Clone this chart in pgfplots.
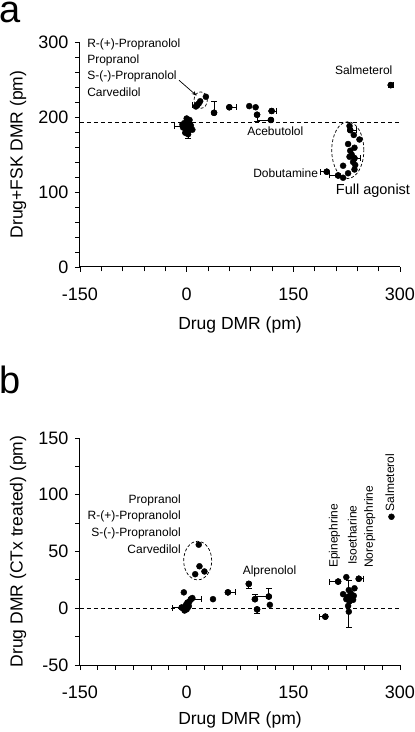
\documentclass[border=0pt]{standalone}
\usepackage{pgfplots}
\pgfplotsset{compat=1.18}
\usepackage{fontspec}
\setmainfont{Liberation Sans}
\usetikzlibrary{arrows.meta}
\tikzset{ann/.style={font=\fontsize{12}{12}\selectfont, inner sep=0pt}}
\begin{document}
\begin{tikzpicture}
\path[use as bounding box] (0pt,0pt) rectangle (415pt,732pt);
\pgfplotsset{
  myaxis/.style={
    scale only axis, width=320pt, anchor=south west,
    axis lines=left, axis line style={-, line width=1pt},
    tick align=outside, major tick length=5pt, minor tick length=4.5pt,
    tick style={black, line width=0.9pt},
    minor tick style={black, line width=0.9pt},
    xticklabel shift=12pt, yticklabel shift=3pt,
    /pgf/number format/assume math mode=true,
    tick label style={font=\fontsize{18}{18}\selectfont},
    label style={font=\fontsize{17.5}{18}\selectfont},
    ylabel style={at={(axis description cs:-0.19375,0.5)}, anchor=center},
    xmin=-150, xmax=300, xtick={-150,0,150,300},
    xlabel={Drug DMR (pm)},
    clip=false,
  },
  pts/.style={only marks, mark=*, mark size=3pt, black, mark options={fill=black}},
}
% ---------- panel a ----------
\begin{axis}[myaxis, at={(80pt,465pt)}, height=225pt,
  ymin=0, ymax=300, ytick={0,100,200,300},
  minor x tick num=4, minor y tick num=4,
  xlabel style={at={(axis description cs:0.5,-0.2578)}, anchor=center},
  ylabel={Drug+FSK DMR (pm)}]
\addplot[black, line width=0.8pt, dash pattern=on 4pt off 3pt] coordinates {(-150,193) (300,193)};
\addplot[pts] coordinates {
(0,198) (2,195) (-3,192) (5,190) (0,188) (-5,186) (3,185) (8,183) (0,181) (-2,179) (2,177) (6,188) (-6,190) (1,193) (4,196) (-1,184)
(13,214) (15,216) (19,221) (27,227) (17,218)
(38.5,205.6) (60,213) (88,214.5) (97,213) (99,203) (119.5,208) (118.5,196)
(287,242.5)
(229,188) (230,182.5) (235,176) (243,170) (227,164) (236,159) (230,155) (229,147) (236,145) (237,136) (236,130) (220,135) (227,125) (220,119) (213,122) (197,127) (232,150) (234,140)
};
\addplot[pts, error bars/.cd, x dir=both, y dir=both, x explicit, y explicit,
  error bar style={line width=0.8pt, black}] coordinates {
(-5,188) += (0,0) -= (13,0)
(2,180) += (0,0) -= (0,8)
(15,216) += (0,0) -= (7,0)
(38.5,205.6) += (0,15) -= (0,0)
(60,213) += (9,0) -= (0,0)
(99,203) += (0,0) -= (0,8)
(118.5,196) += (0,0) -= (20,0)
(119.5,208) += (6,0) -= (0,0)
(287,242.5) += (4,0) -= (0,3)
(197,127) += (0,0) -= (9,0)
(213,122) += (0,0) -= (12,0)
(230,182.5) += (8,0) -= (0,0)
(236,145) += (8,0) -= (0,0)
};
\draw[black, line width=0.7pt, dash pattern=on 3pt off 2pt] (axis cs:19.7,222.5) ellipse [x radius=9.4, y radius=11];
\draw[black, line width=0.7pt, dash pattern=on 3pt off 2pt] (axis cs:226.6,155.8) ellipse [x radius=22.6, y radius=37.8];
\draw[-{Stealth[length=5pt]}, black, line width=0.7pt] (axis cs:-10.8,249) -- (axis cs:14,228.5);
\node[ann, anchor=west] at (axis cs:-140,297) {R-(+)-Propranolol};
\node[ann, anchor=west] at (axis cs:-140,275) {Propranol};
\node[ann, anchor=west] at (axis cs:-140,254) {S-(-)-Propranolol};
\node[ann, anchor=west] at (axis cs:-140,232.5) {Carvedilol};
\node[ann] at (axis cs:249,262.6) {Salmeterol};
\node[ann] at (axis cs:124.6,181) {Acebutolol};
\node[ann, anchor=east] at (axis cs:185,124.6) {Dobutamine};
\node[ann, font=\fontsize{14.5}{15}\selectfont] at (axis cs:262,101) {Full agonist};
\end{axis}
% ---------- panel b ----------
\begin{axis}[myaxis, at={(80pt,67pt)}, height=227pt,
  ymin=-50, ymax=150, ytick={-50,0,50,100,150},
  minor x tick num=5, minor y tick num=1,
  xlabel style={at={(axis description cs:0.5,-0.2423)}, anchor=center},
  ylabel={Drug DMR (CTx treated) (pm)}]
\addplot[black, line width=0.8pt, dash pattern=on 4pt off 3pt] coordinates {(-150,0) (300,0)};
\addplot[pts] coordinates {
(-4,14) (6,8) (4,6) (-1,3) (-7,0.6) (0,-1) (2,1) (-3,-2) (3,2) (8,9) (1,5) (-2,0)
(17,56) (18,37) (12,30) (25,32.4)
(37,8) (58,14) (87.4,21.5) (96,8) (99,-1) (115.5,10.3) (117,3)
(288,80.6)
(195,-7.4) (213,23.5) (224.5,27.4) (242,26) (220,12.4) (228,16) (236,17.6) (224.5,8) (232,10) (234,7.4) (227,2) (228,-3) (229,6) (231,13) (235,11) (226,10)
};
\addplot[pts, error bars/.cd, x dir=both, y dir=both, x explicit, y explicit,
  error bar style={line width=0.8pt, black}] coordinates {
(-7,0.6) += (0,0) -= (13,0)
(6,8) += (14,0) -= (0,0)
(58,14) += (10,0) -= (0,0)
(87.4,21.5) += (0,0) -= (0,4)
(99,-1) += (0,0) -= (0,3)
(96,8) += (0,4) -= (0,0)
(115.5,10.3) += (0,7) -= (19,0)
(195,-7.4) += (0,0) -= (8,0)
(213,23.5) += (0,0) -= (12,0)
(228,8) += (0,17) -= (0,25)
(242,26) += (6,0) -= (0,0)
};
\draw[black, line width=0.7pt, dash pattern=on 3pt off 2pt] (axis cs:15.5,42) ellipse [x radius=19.7, y radius=17];
\node[ann, anchor=east] at (axis cs:-8,94.7) {Propranol};
\node[ann, anchor=east] at (axis cs:-8,80.9) {R-(+)-Propranolol};
\node[ann, anchor=east] at (axis cs:-8,66.2) {S-(-)-Propranolol};
\node[ann, anchor=east] at (axis cs:-8,52) {Carvedilol};
\node[ann] at (axis cs:116.5,32.4) {Alprenolol};
\node[ann, rotate=90, anchor=west] at (axis cs:208,35.3) {Epinephrine};
\node[ann, rotate=90, anchor=west] at (axis cs:233,38) {Isoetharine};
\node[ann, rotate=90, anchor=west] at (axis cs:257.4,35.3) {Norepinephrine};
\node[ann, rotate=90, anchor=west] at (axis cs:285.6,85.3) {Salmeterol};
\end{axis}
\node[anchor=base west, inner sep=0pt, font=\fontsize{38}{38}\selectfont] at (-1pt,709pt) {a};
\node[anchor=base west, inner sep=0pt, font=\fontsize{38}{38}\selectfont] at (-1pt,338pt) {b};
\end{tikzpicture}
\end{document}
